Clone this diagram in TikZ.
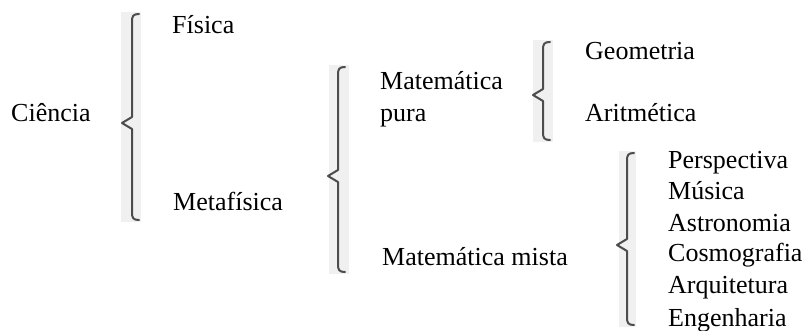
\documentclass[tikz,border=0pt]{standalone}
\usepackage{fontspec}
\setmainfont{Liberation Serif}

\tikzset{
  scanbg/.style={fill=black!6, draw=none},
  scanbrace/.style={draw=black!70, line width=2pt, line join=round, line cap=round},
  lbl/.style={anchor=base west, inner sep=0pt, font=\fontsize{26}{30}\selectfont}
}

\begin{document}
\begin{tikzpicture}[x=1pt, y=-1pt]
\useasboundingbox (0,0) rectangle (805,331);
% scanned braces
\foreach \bx/\btop/\bbot/\btip/\bl/\br in {132/14/220/123/121/141, 338/67/272/176/329/349, 543/42/140/95/533/553, 627/153/325/245/619/636} {
\fill[scanbg] (\bl,\btop-2) rectangle (\br,\bbot+2);
\draw[scanbrace] (\bx+7,\btop) .. controls (\bx+1,\btop) and (\bx,\btop+2) .. (\bx,\btop+8)
  -- (\bx,\btip-6) -- (\bx-10,\btip) -- (\bx,\btip+6)
  -- (\bx,\bbot-8) .. controls (\bx,\bbot-2) and (\bx+1,\bbot) .. (\bx+7,\bbot);
}
% first level
\node[lbl] (ciencia) at (11,121.5) {Ciência};
\node[lbl] (fisica) at (172,34) {Física};
\node[lbl] (metafisica) at (173,210) {Metafísica};
% second level
\node[lbl] (matpura) at (380,89.5) {Matemática};
\node[lbl] (matpurab) at (380,121.5) {pura};
\node[lbl] (matmista) at (382,265) {Matemática mista};
% third level
\node[lbl] (geometria) at (585,59.5) {Geometria};
\node[lbl] (aritmetica) at (585,121.5) {Aritmética};
\node[lbl] (perspectiva) at (668,169) {Perspectiva};
\node[lbl] (musica) at (668,199.5) {Música};
\node[lbl] (astronomia) at (668,231) {Astronomia};
\node[lbl] (cosmografia) at (668,261.5) {Cosmografia};
\node[lbl] (arquitetura) at (668,293) {Arquitetura};
\node[lbl] (engenharia) at (668,326) {Engenharia};
\end{tikzpicture}
\end{document}
